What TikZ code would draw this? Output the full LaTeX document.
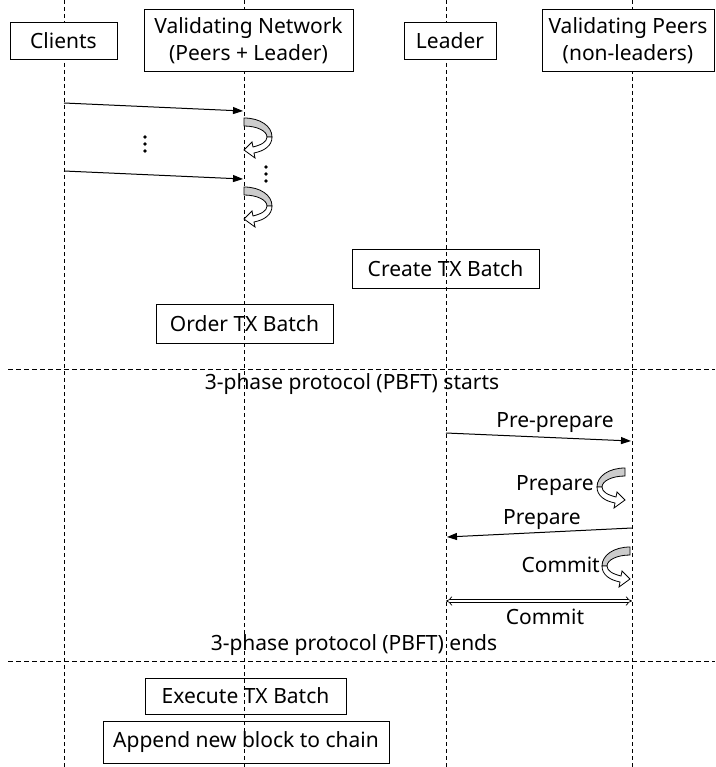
\documentclass[tikz,border=0pt]{standalone}
\usepackage{fontspec}
\setmainfont{Noto Sans}
\usetikzlibrary{arrows.meta}

% curved self arrow: x, y, direction (1 = to the right, -1 = to the left)
\newcommand{\turnarrow}[3]{%
  \begin{scope}[shift={(#1,#2)},xscale=#3,line width=0.8pt]
    \filldraw[fill=gray!40] (0,0) .. controls (16,0) and (28,8) .. (28,19)
        -- (23,19) .. controls (23,13) and (13,8) .. (0,8) -- cycle;
    \filldraw[fill=white] (28,19) .. controls (28,28) and (20,33) .. (10,35)
        -- (11,40) -- (0,32) -- (8,24) -- (9,29)
        .. controls (17,27) and (23,24) .. (23,19) -- cycle;
  \end{scope}}

\begin{document}
\begin{tikzpicture}[x=1pt,y=-1pt,font=\fontsize{21}{27}\selectfont]
    \tikzstyle{lifeline}=[draw, dash pattern=on 4pt off 3pt, line width=0.8pt]
    \tikzstyle{phase}=[draw, dash pattern=on 5pt off 3pt, line width=0.8pt]
    \tikzstyle{actor}=[draw, fill=white, line width=1pt, align=center, inner sep=0pt]
    \tikzstyle{task}=[draw, line width=1pt, inner sep=0pt]
    \tikzstyle{label}=[inner sep=0pt]
    \tikzstyle{msg}=[draw, line width=1pt, -{Triangle[length=10pt,width=7pt]}]
    \useasboundingbox (0,0) rectangle (715,767);

    % lifelines
    \coordinate (cl top) at (64,0);   \coordinate (cl bot) at (64,767);
    \coordinate (vn top) at (244,0);  \coordinate (vn bot) at (244,767);
    \coordinate (ld top) at (446,0);  \coordinate (ld bot) at (446,767);
    \coordinate (vp top) at (632,0);  \coordinate (vp bot) at (632,767);
    \draw[lifeline] (cl top) -- (cl bot);
    \draw[lifeline] (vn top) -- (vn bot);
    \draw[lifeline] (ld top) -- (ld bot);
    \draw[lifeline] (vp top) -- (vp bot);

    % phase separators
    \coordinate (sep1 l) at (8,369);  \coordinate (sep1 r) at (715,369);
    \coordinate (sep2 l) at (8,661);  \coordinate (sep2 r) at (715,661);
    \draw[phase] (sep1 l) -- (sep1 r);
    \draw[phase] (sep2 l) -- (sep2 r);

    % participants
    \node[actor, minimum width=107pt, minimum height=37pt] (clients) at (63.5,41) {Clients};
    \node[actor, minimum width=209pt, minimum height=62pt] (network) at (248.5,41) {Validating Network\\(Peers + Leader)};
    \node[actor, minimum width=92pt, minimum height=37pt] (leader) at (450,41) {Leader};
    \node[actor, minimum width=172pt, minimum height=62pt] (peers) at (628,41) {Validating Peers\\(non-leaders)};

    % client requests
    \coordinate (req1 s) at (64,103);  \coordinate (req1 e) at (243,111);
    \coordinate (req2 s) at (64,171);  \coordinate (req2 e) at (243,179);
    \draw[msg] (req1 s) -- (req1 e);
    \draw[msg] (req2 s) -- (req2 e);
    \foreach \y in {137,144,151} \fill (145,\y) circle (1.8pt);
    \foreach \y in {167,174,181} \fill (266,\y) circle (1.8pt);
    \turnarrow{244}{118}{1}
    \turnarrow{244}{187}{1}

    % batching
    \node[task, minimum width=187pt, minimum height=39pt] (create) at (445.5,268.5) {Create TX Batch};
    \node[task, minimum width=177pt, minimum height=39pt] (order) at (244.5,323.5) {Order TX Batch};

    % PBFT
    \node[label] (starts) at (352,384) {3-phase protocol (PBFT) starts};
    \coordinate (pp s) at (446,433);  \coordinate (pp e) at (631,441);
    \draw[msg] (pp s) -- (pp e);
    \node[label] (pp label) at (555,423) {Pre-prepare};
    \turnarrow{625}{468}{-1}
    \node[label, anchor=east] (prep loop) at (594,486) {Prepare};
    \coordinate (prep s) at (632,528);  \coordinate (prep e) at (447,537);
    \draw[msg] (prep s) -- (prep e);
    \node[label] (prep label) at (542,520) {Prepare};
    \turnarrow{630}{547}{-1}
    \node[label, anchor=east] (commit loop) at (600,565) {Commit};
    \coordinate (cm s) at (446,601);  \coordinate (cm e) at (632,601);
    \draw[double, double distance=2.5pt, line width=0.7pt, {Implies}-{Implies}] (cm s) -- (cm e);
    \node[label] (cm label) at (545,617) {Commit};
    \node[label] (ends) at (354,645) {3-phase protocol (PBFT) ends};

    % execution
    \node[task, minimum width=201pt, minimum height=36pt] (execute) at (245.5,696) {Execute TX Batch};
    \node[task, minimum width=286pt, minimum height=42pt] (append) at (246,742) {Append new block to chain};
\end{tikzpicture}
\end{document}
